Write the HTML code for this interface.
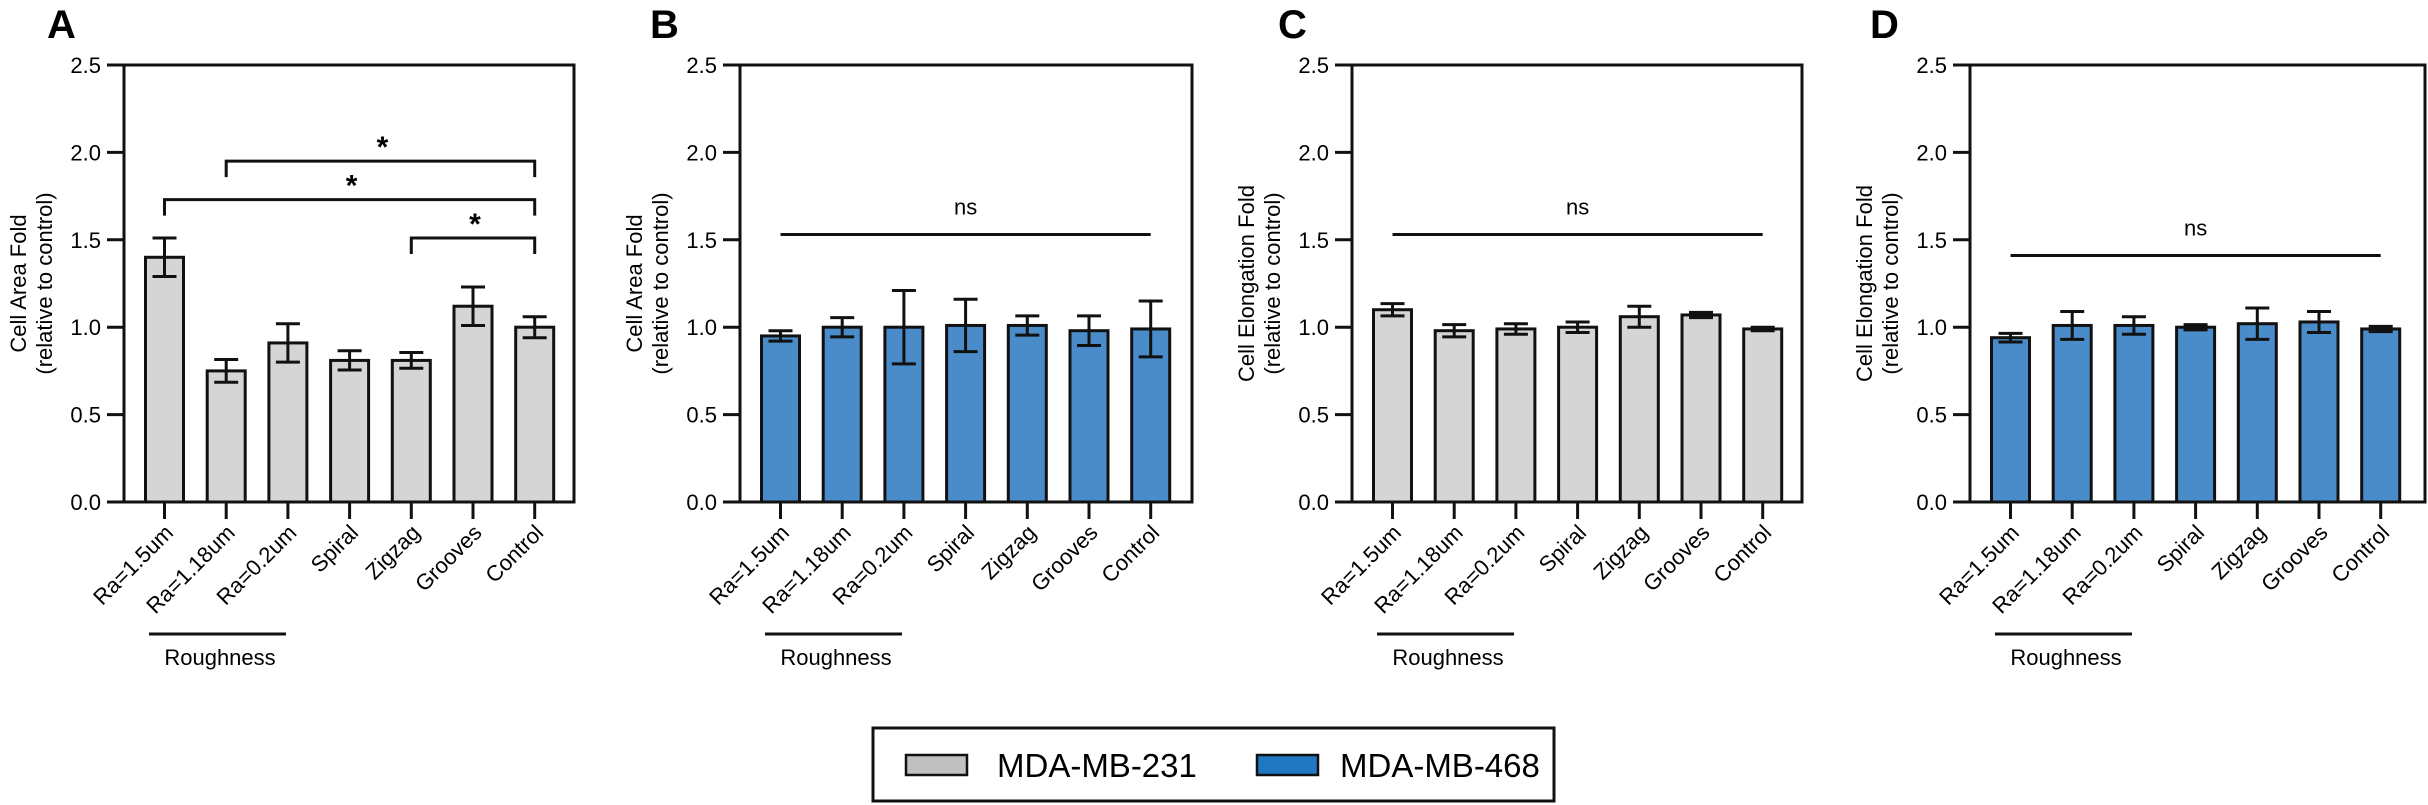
<!DOCTYPE html>
<html><head><meta charset="utf-8"><style>
html,body{margin:0;padding:0;background:#fff;}
svg{display:block;font-family:"Liberation Sans",Arial,sans-serif;}
</style></head><body>
<svg id="fig" width="2428" height="805" viewBox="0 0 2428 805" xmlns="http://www.w3.org/2000/svg"></svg>
<script>
const categories = ["Ra=1.5um","Ra=1.18um","Ra=0.2um","Spiral","Zigzag","Grooves","Control"];
const yTicks = [0.0,0.5,1.0,1.5,2.0,2.5];
const yTickLabels = ["0.0","0.5","1.0","1.5","2.0","2.5"];
const panelLetters = ["A","B","C","D"];
const yTitles = ["Cell Area Fold","Cell Area Fold","Cell Elongation Fold","Cell Elongation Fold"];
const meansA = [1.40,0.75,0.91,0.81,0.81,1.12,1.00];
const errsA  = [0.11,0.065,0.11,0.055,0.045,0.11,0.06];
const meansB = [0.95,1.00,1.00,1.01,1.01,0.98,0.99];
const errsB  = [0.03,0.055,0.21,0.15,0.055,0.085,0.16];
const meansC = [1.10,0.98,0.99,1.00,1.06,1.07,0.99];
const errsC  = [0.035,0.035,0.03,0.03,0.06,0.015,0.01];
const meansD = [0.94,1.01,1.01,1.00,1.02,1.03,0.99];
const errsD  = [0.025,0.08,0.05,0.015,0.09,0.06,0.015];
// significance brackets for panel A: [fromIndex, toIndex, y-value]
const bracketFrom = [1,0,4];
const bracketTo = [6,6,6];
const bracketLevel = [1.95,1.73,1.51];
const nsLevel = [null,1.53,1.53,1.41];

const NS="http://www.w3.org/2000/svg";
const svg=document.getElementById('fig');
function el(tag,attrs,parent){const e=document.createElementNS(NS,tag);for(const k in attrs)e.setAttribute(k,attrs[k]);(parent||svg).appendChild(e);return e;}

const panels=[
 {L:124,R:574,letterX:47,means:meansA,errs:errsA,fill:"#d4d5d4"},
 {L:740,R:1192,letterX:650,means:meansB,errs:errsB,fill:"#4a8cc9"},
 {L:1352,R:1802,letterX:1278,means:meansC,errs:errsC,fill:"#d4d5d4"},
 {L:1970,R:2425,letterX:1870,means:meansD,errs:errsD,fill:"#4a8cc9"}
];
const TOP=65,BOT=502,YMAX=2.5;

panels.forEach((p,pi)=>{
 const g=el('g',{});
 
 
 const y=v=>BOT-(v/YMAX)*(BOT-TOP);
 const x=i=>p.L+40.5+i*61.7;
 const bw=38;
 // letter
 const lt=el('text',{x:p.letterX,y:38,'font-size':40,'font-weight':'bold'},g);
 lt.textContent=panelLetters[pi];
 
 
 // y titles
 const cy=(TOP+BOT)/2;
 const t1=el('text',{x:p.L-104,y:cy,'font-size':22,'text-anchor':'middle','transform':`rotate(-90 ${p.L-104} ${cy})`,'dominant-baseline':'middle'},g);
 t1.textContent=yTitles[pi];
 
 
 const t2=el('text',{x:p.L-78,y:cy,'font-size':22,'text-anchor':'middle','transform':`rotate(-90 ${p.L-78} ${cy})`,'dominant-baseline':'middle'},g);
 t2.textContent="(relative to control)";
 
 
 // bars
 p.means.forEach((m,i)=>{
  const r=el('rect',{x:x(i)-bw/2,y:y(m),width:bw,height:BOT-y(m),fill:p.fill,stroke:'#111','stroke-width':3},g);
  
  
  const e=p.errs[i];
  const eb=el('path',{d:`M${x(i)} ${y(m+e)}V${y(m-e)}M${x(i)-12} ${y(m+e)}H${x(i)+12}M${x(i)-12} ${y(m-e)}H${x(i)+12}`,stroke:'#111','stroke-width':3,fill:'none'},g);
  
  
 });
 // frame/axes
 const fr=el('rect',{x:p.L,y:TOP,width:p.R-p.L,height:BOT-TOP,fill:'none',stroke:'#111','stroke-width':3},g);
 
 
 yTicks.forEach((v,k)=>{
  const tk=el('line',{x1:p.L-17,x2:p.L,y1:y(v),y2:y(v),stroke:'#111','stroke-width':3},g);
  
  
  const tl=el('text',{x:p.L-23,y:y(v)+8,'font-size':22,'text-anchor':'end'},g);
  tl.textContent=yTickLabels[k];
  
  
 });
 categories.forEach((c,i)=>{
  const tk=el('line',{x1:x(i),x2:x(i),y1:BOT,y2:BOT+17,stroke:'#111','stroke-width':3},g);
  
  
  const ax=x(i)+10, ay=BOT+32;
  const tl=el('text',{x:ax,y:ay,'font-size':22,'text-anchor':'end',transform:`rotate(-45 ${ax} ${ay})`},g);
  tl.textContent=c;
  
  
 });
 // roughness group
 const rl=el('line',{x1:p.L+25,x2:p.L+162,y1:634,y2:634,stroke:'#111','stroke-width':3},g);
 
 
 const rt=el('text',{x:p.L+96,y:665,'font-size':22,'text-anchor':'middle'},g);
 rt.textContent="Roughness";
 
 
 // significance
 if(pi===0){
  bracketFrom.forEach((f,k)=>{
   const yy=y(bracketLevel[k]);
   const b=el('path',{d:`M${x(f)} ${yy+16}V${yy}H${x(bracketTo[k])}V${yy+16}`,stroke:'#111','stroke-width':3,fill:'none'},g);
   
   
   const s=el('text',{x:(x(f)+x(bracketTo[k]))/2+2,y:yy-4,'font-size':30,'font-weight':'bold','text-anchor':'middle'},g);
   s.textContent="*";
   
   
  });
 } else {
  const yy=y(nsLevel[pi]);
  const nl=el('line',{x1:x(0),x2:x(6),y1:yy,y2:yy,stroke:'#111','stroke-width':3},g);
  
  
  const nt=el('text',{x:(x(0)+x(6))/2,y:yy-20,'font-size':22,'text-anchor':'middle'},g);
  nt.textContent="ns";
  
  
 }
});

// legend
const lg=el('g',{});


const lb=el('rect',{x:873,y:728,width:681,height:73,fill:'#fff',stroke:'#111','stroke-width':3},lg);


const s1=el('rect',{x:906,y:755,width:61,height:20,fill:'#c0c0c0',stroke:'#111','stroke-width':2.5},lg);


const l1=el('text',{x:997,y:777,'font-size':33},lg);
l1.textContent="MDA-MB-231";


const s2=el('rect',{x:1257,y:755,width:61,height:20,fill:'#1f78c1',stroke:'#111','stroke-width':2.5},lg);


const l2=el('text',{x:1340,y:777,'font-size':33},lg);
l2.textContent="MDA-MB-468";


</script>
</body></html>
